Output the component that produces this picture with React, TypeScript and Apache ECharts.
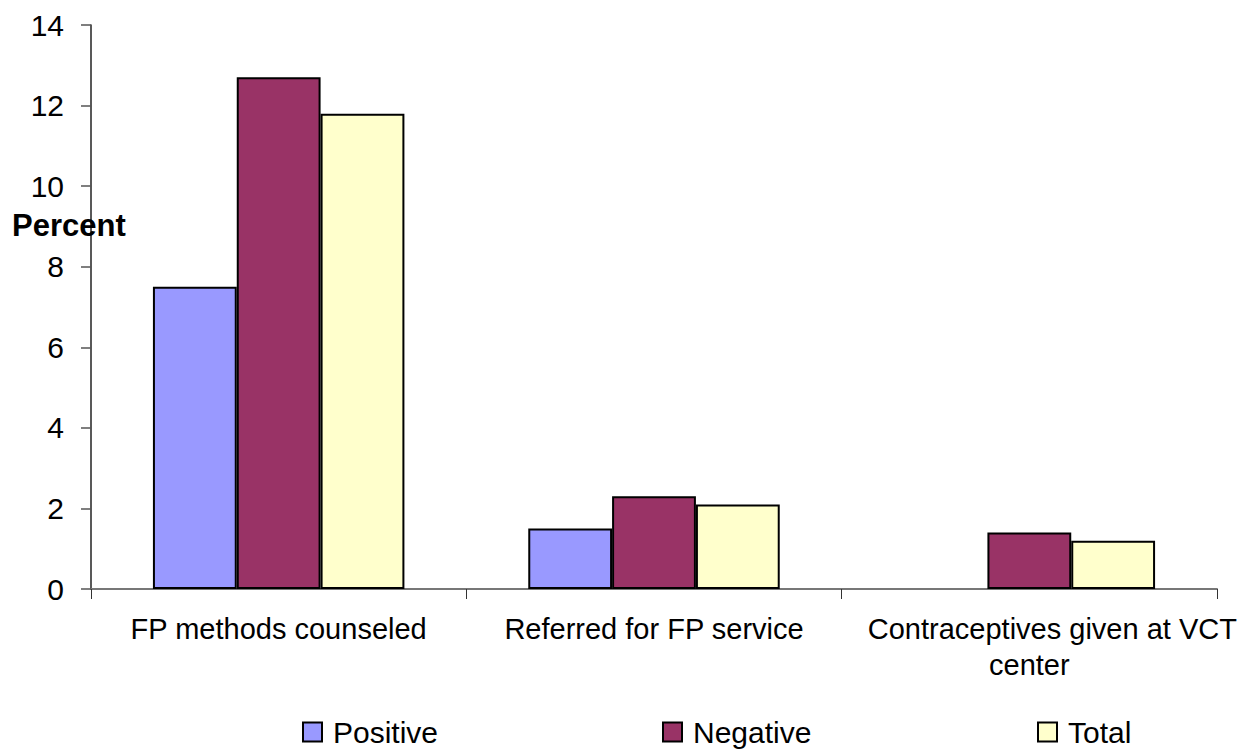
import React, { useEffect, useRef } from "react";
import * as echarts from "echarts";

// Chart data
const categories = [
  "FP methods counseled",
  "Referred for FP service",
  "Contraceptives given at VCT center",
];
const seriesNames = ["Positive", "Negative", "Total"];
const positive = [7.5, 1.5, 0];
const negative = [12.7, 2.3, 1.4];
const total = [11.8, 2.1, 1.2];
const yTicks = { min: 0, max: 14, interval: 2 };

const colors = ["#9999FF", "#993366", "#FFFFCC"];
const FONT = "'Liberation Sans', Arial, Helvetica, sans-serif";

// Break a category name into lines of at most maxChars characters.
function wrapWords(text: string, maxChars: number): string[] {
  const words = text.split(" ");
  const lines: string[] = [];
  let cur = "";
  for (const w of words) {
    const next = cur ? cur + " " + w : w;
    if (next.length > maxChars && cur) {
      lines.push(cur);
      cur = w;
    } else {
      cur = next;
    }
  }
  if (cur) lines.push(cur);
  return lines;
}

export default function App() {
  const ref = useRef<HTMLDivElement>(null);

  useEffect(() => {
    document.body.style.margin = "0";
    if (!ref.current) return;
    const chart = echarts.init(ref.current, null, { renderer: "svg" });

    const seriesData = [positive, negative, total];
    const legendLefts = [302, 662, 1037];

    chart.setOption({
      animation: false,
      backgroundColor: "#ffffff",
      textStyle: { fontFamily: FONT, color: "#000" },
      grid: { left: 91, right: 32, top: 25, bottom: 160, containLabel: false },
      legend: seriesNames.map((name, i) => ({
        data: [name],
        left: legendLefts[i],
        top: 714,
        padding: 0,
        itemWidth: 19,
        itemHeight: 19,
        icon: "rect",
        itemStyle: { borderColor: "#000", borderWidth: 2 },
        textStyle: {
          fontSize: 30,
          lineHeight: 36,
          fontFamily: FONT,
          color: "#000",
          padding: [0, 0, 0, 6],
        },
        selectedMode: false,
      })),
      xAxis: {
        type: "category",
        data: categories,
        axisLine: { lineStyle: { color: "#777", width: 2 } },
        axisTick: {
          show: true,
          length: 10,
          alignWithLabel: false,
          lineStyle: { color: "#333", width: 1 },
        },
        axisLabel: {
          interval: 0,
          margin: 22,
          fontSize: 29,
          fontFamily: FONT,
          color: "#000",
          lineHeight: 36,
          formatter: (value: string) => {
            const lines = wrapWords(value, 28);
            if (lines.length === 1) return lines[0];
            return (
              "{first|" + lines[0] + "}\n" +
              lines.slice(1).map((l) => "{rest|" + l + "}").join("\n")
            );
          },
          rich: {
            first: {
              fontSize: 29,
              fontFamily: FONT,
              color: "#000",
              lineHeight: 36,
              padding: [0, 0, 0, 46],
            },
            rest: {
              fontSize: 29,
              fontFamily: FONT,
              color: "#000",
              lineHeight: 36,
            },
          },
        },
      },
      yAxis: {
        type: "value",
        min: yTicks.min,
        max: yTicks.max,
        interval: yTicks.interval,
        splitLine: { show: false },
        axisLine: { show: true, lineStyle: { color: "#222", width: 1.5 } },
        axisTick: { show: true, length: 10, lineStyle: { color: "#555", width: 1.5 } },
        axisLabel: {
          margin: 27,
          fontSize: 30,
          fontFamily: FONT,
          color: "#000",
        },
      },
      graphic: [
        {
          type: "text",
          left: 12,
          top: 210,
          z: 100,
          style: {
            text: "Percent",
            font: "bold 31px " + FONT,
            fill: "#000",
          },
        },
      ],
      series: seriesNames.map((name, i) => ({
        name,
        type: "bar",
        // zero-height bars are left without an outline
        data: seriesData[i].map((v) =>
          v === 0 ? { value: v, itemStyle: { borderWidth: 0 } } : v
        ),
        barGap: "0%",
        barCategoryGap: "33%",
        itemStyle: {
          color: colors[i],
          borderColor: "#000",
          borderWidth: 2,
        },
      })),
    });

    return () => chart.dispose();
  }, []);

  return <div ref={ref} style={{ width: 1249, height: 749 }} />;
}
